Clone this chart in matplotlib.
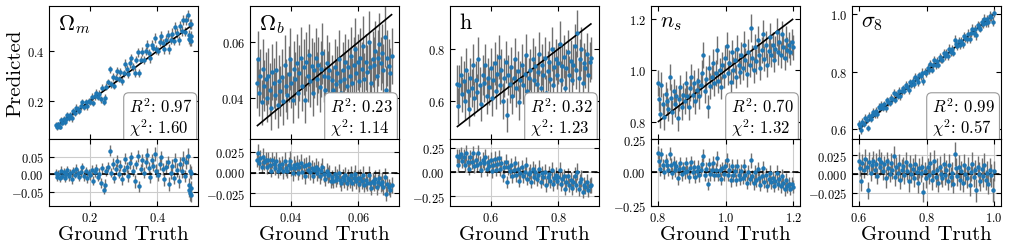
import numpy as np
import matplotlib
matplotlib.use("Agg")
import matplotlib.pyplot as plt

plt.rcParams["font.family"] = "serif"
plt.rcParams["font.serif"] = ["cmr10"]
plt.rcParams["mathtext.fontset"] = "cm"
plt.rcParams["axes.formatter.use_mathtext"] = True

# Omega_m
om_truth = [0.102, 0.105, 0.108, 0.112, 0.115, 0.119, 0.123, 0.127, 0.131, 0.134,
            0.139, 0.143, 0.147, 0.152, 0.156, 0.160, 0.165, 0.169, 0.174, 0.178,
            0.183, 0.188, 0.192, 0.197, 0.202, 0.206, 0.211, 0.215, 0.220, 0.224,
            0.229, 0.233, 0.237, 0.241, 0.245, 0.249, 0.254, 0.259, 0.263, 0.268,
            0.272, 0.277, 0.282, 0.287, 0.291, 0.296, 0.300, 0.305, 0.310, 0.314,
            0.319, 0.323, 0.328, 0.333, 0.337, 0.342, 0.346, 0.351, 0.356, 0.360,
            0.365, 0.370, 0.374, 0.379, 0.383, 0.388, 0.393, 0.397, 0.402, 0.407,
            0.411, 0.416, 0.421, 0.425, 0.430, 0.435, 0.439, 0.444, 0.449, 0.453,
            0.458, 0.463, 0.467, 0.472, 0.477, 0.481, 0.486, 0.489, 0.492, 0.494,
            0.496, 0.497, 0.498, 0.499, 0.500]
om_pred = [0.107, 0.097, 0.110, 0.100, 0.125, 0.115, 0.129, 0.117, 0.131, 0.146,
           0.133, 0.147, 0.133, 0.160, 0.154, 0.175, 0.168, 0.160, 0.180, 0.198,
           0.178, 0.197, 0.180, 0.201, 0.199, 0.217, 0.193, 0.221, 0.235, 0.216,
           0.231, 0.208, 0.255, 0.196, 0.215, 0.259, 0.276, 0.327, 0.268, 0.298,
           0.262, 0.292, 0.320, 0.289, 0.316, 0.281, 0.312, 0.350, 0.330, 0.309,
           0.351, 0.373, 0.338, 0.313, 0.365, 0.394, 0.311, 0.366, 0.396, 0.365,
           0.400, 0.425, 0.392, 0.371, 0.425, 0.413, 0.451, 0.407, 0.400, 0.437,
           0.459, 0.431, 0.406, 0.445, 0.465, 0.407, 0.444, 0.469, 0.439, 0.493,
           0.470, 0.443, 0.497, 0.480, 0.522, 0.476, 0.521, 0.541, 0.462, 0.449,
           0.506, 0.442, 0.438, 0.459, 0.505]
om_err = [0.010, 0.012, 0.009, 0.011, 0.013, 0.010, 0.012, 0.011, 0.010, 0.013,
          0.012, 0.011, 0.014, 0.012, 0.010, 0.013, 0.012, 0.011, 0.014, 0.012,
          0.013, 0.012, 0.014, 0.011, 0.013, 0.015, 0.012, 0.014, 0.013, 0.012,
          0.015, 0.013, 0.014, 0.012, 0.016, 0.014, 0.013, 0.015, 0.014, 0.016,
          0.014, 0.015, 0.017, 0.013, 0.016, 0.015, 0.014, 0.017, 0.015, 0.016,
          0.017, 0.015, 0.016, 0.018, 0.014, 0.017, 0.016, 0.015, 0.018, 0.016,
          0.017, 0.019, 0.016, 0.018, 0.017, 0.015, 0.019, 0.018, 0.016, 0.018,
          0.019, 0.017, 0.018, 0.020, 0.017, 0.019, 0.018, 0.020, 0.017, 0.021,
          0.019, 0.018, 0.020, 0.019, 0.021, 0.018, 0.020, 0.022, 0.019, 0.021,
          0.020, 0.022, 0.019, 0.021, 0.020]

# Omega_b
ob_truth = [0.0302, 0.0305, 0.0308, 0.0311, 0.0315, 0.0318, 0.0322, 0.0326, 0.0330, 0.0334,
            0.0338, 0.0342, 0.0346, 0.0350, 0.0354, 0.0358, 0.0362, 0.0366, 0.0370, 0.0374,
            0.0378, 0.0382, 0.0386, 0.0390, 0.0394, 0.0398, 0.0402, 0.0406, 0.0410, 0.0414,
            0.0418, 0.0422, 0.0426, 0.0430, 0.0434, 0.0438, 0.0442, 0.0446, 0.0450, 0.0454,
            0.0458, 0.0462, 0.0466, 0.0470, 0.0474, 0.0478, 0.0482, 0.0486, 0.0490, 0.0494,
            0.0498, 0.0502, 0.0506, 0.0510, 0.0514, 0.0518, 0.0522, 0.0526, 0.0530, 0.0534,
            0.0538, 0.0542, 0.0546, 0.0550, 0.0554, 0.0558, 0.0562, 0.0566, 0.0570, 0.0574,
            0.0578, 0.0582, 0.0586, 0.0590, 0.0594, 0.0598, 0.0602, 0.0606, 0.0610, 0.0614,
            0.0618, 0.0622, 0.0626, 0.0630, 0.0634, 0.0638, 0.0642, 0.0646, 0.0650, 0.0654,
            0.0658, 0.0662, 0.0666, 0.0670, 0.0674, 0.0678, 0.0682, 0.0686, 0.0690, 0.0694,
            0.0698]
ob_pred = [0.0455, 0.0540, 0.0420, 0.0480, 0.0385, 0.0505, 0.0445, 0.0470, 0.0400, 0.0480,
           0.0430, 0.0365, 0.0495, 0.0455, 0.0410, 0.0500, 0.0375, 0.0460, 0.0425, 0.0475,
           0.0390, 0.0520, 0.0445, 0.0410, 0.0485, 0.0540, 0.0455, 0.0395, 0.0505, 0.0470,
           0.0525, 0.0420, 0.0490, 0.0545, 0.0445, 0.0510, 0.0395, 0.0530, 0.0480, 0.0555,
           0.0460, 0.0515, 0.0420, 0.0500, 0.0545, 0.0470, 0.0520, 0.0440, 0.0505, 0.0560,
           0.0480, 0.0430, 0.0525, 0.0475, 0.0500, 0.0415, 0.0465, 0.0430, 0.0510, 0.0450,
           0.0490, 0.0540, 0.0460, 0.0420, 0.0500, 0.0470, 0.0530, 0.0445, 0.0510, 0.0480,
           0.0550, 0.0455, 0.0520, 0.0575, 0.0490, 0.0530, 0.0460, 0.0545, 0.0505, 0.0585,
           0.0470, 0.0530, 0.0495, 0.0600, 0.0510, 0.0455, 0.0540, 0.0520, 0.0570, 0.0480,
           0.0545, 0.0595, 0.0525, 0.0560, 0.0500, 0.0620, 0.0430, 0.0545, 0.0515, 0.0490,
           0.0550]
ob_err = [0.0090, 0.0100, 0.0085, 0.0095, 0.0080, 0.0105, 0.0090, 0.0095, 0.0085, 0.0100,
          0.0095, 0.0080, 0.0100, 0.0090, 0.0085, 0.0105, 0.0080, 0.0095, 0.0090, 0.0100,
          0.0085, 0.0105, 0.0095, 0.0085, 0.0100, 0.0110, 0.0090, 0.0085, 0.0100, 0.0095,
          0.0105, 0.0090, 0.0100, 0.0110, 0.0090, 0.0100, 0.0085, 0.0105, 0.0095, 0.0110,
          0.0090, 0.0100, 0.0085, 0.0100, 0.0105, 0.0095, 0.0100, 0.0090, 0.0100, 0.0110,
          0.0095, 0.0085, 0.0100, 0.0095, 0.0100, 0.0085, 0.0090, 0.0085, 0.0100, 0.0090,
          0.0095, 0.0105, 0.0090, 0.0085, 0.0100, 0.0095, 0.0100, 0.0090, 0.0100, 0.0095,
          0.0105, 0.0090, 0.0100, 0.0110, 0.0095, 0.0100, 0.0090, 0.0105, 0.0095, 0.0110,
          0.0090, 0.0100, 0.0095, 0.0110, 0.0095, 0.0090, 0.0100, 0.0100, 0.0105, 0.0090,
          0.0100, 0.0110, 0.0095, 0.0105, 0.0095, 0.0110, 0.0085, 0.0100, 0.0095, 0.0090,
          0.0100]

# h
h_truth = [0.502, 0.505, 0.508, 0.512, 0.516, 0.520, 0.524, 0.528, 0.532, 0.536,
           0.540, 0.544, 0.548, 0.552, 0.556, 0.560, 0.564, 0.568, 0.572, 0.576,
           0.580, 0.584, 0.588, 0.592, 0.596, 0.600, 0.604, 0.608, 0.612, 0.616,
           0.620, 0.624, 0.628, 0.632, 0.636, 0.640, 0.644, 0.648, 0.652, 0.656,
           0.660, 0.664, 0.668, 0.672, 0.676, 0.680, 0.684, 0.688, 0.692, 0.696,
           0.700, 0.704, 0.708, 0.712, 0.716, 0.720, 0.724, 0.728, 0.732, 0.736,
           0.740, 0.744, 0.748, 0.752, 0.756, 0.760, 0.764, 0.768, 0.772, 0.776,
           0.780, 0.784, 0.788, 0.792, 0.796, 0.800, 0.804, 0.808, 0.812, 0.816,
           0.820, 0.824, 0.828, 0.832, 0.836, 0.840, 0.844, 0.848, 0.852, 0.856,
           0.860, 0.864, 0.868, 0.872, 0.876, 0.880, 0.884, 0.888, 0.892, 0.896]
h_pred = [0.665, 0.580, 0.660, 0.700, 0.625, 0.675, 0.600, 0.720, 0.640, 0.570,
          0.690, 0.650, 0.740, 0.610, 0.680, 0.635, 0.760, 0.660, 0.590, 0.700,
          0.670, 0.740, 0.620, 0.690, 0.655, 0.725, 0.610, 0.680, 0.745, 0.640,
          0.705, 0.770, 0.660, 0.720, 0.600, 0.690, 0.750, 0.545, 0.700, 0.665,
          0.730, 0.620, 0.690, 0.760, 0.650, 0.715, 0.595, 0.680, 0.740, 0.660,
          0.705, 0.775, 0.640, 0.690, 0.720, 0.620, 0.760, 0.680, 0.735, 0.665,
          0.710, 0.780, 0.650, 0.740, 0.700, 0.765, 0.630, 0.715, 0.750, 0.685,
          0.800, 0.660, 0.730, 0.760, 0.700, 0.745, 0.820, 0.680, 0.735, 0.770,
          0.650, 0.725, 0.790, 0.700, 0.755, 0.680, 0.740, 0.810, 0.720, 0.860,
          0.690, 0.760, 0.800, 0.670, 0.745, 0.725, 0.780, 0.700, 0.750, 0.765]
h_err = [0.075, 0.070, 0.080, 0.072, 0.068, 0.078, 0.074, 0.082, 0.070, 0.066,
         0.076, 0.072, 0.080, 0.068, 0.074, 0.070, 0.084, 0.072, 0.066, 0.078,
         0.074, 0.080, 0.070, 0.076, 0.072, 0.078, 0.068, 0.074, 0.082, 0.070,
         0.076, 0.084, 0.072, 0.078, 0.068, 0.074, 0.080, 0.066, 0.076, 0.072,
         0.078, 0.070, 0.074, 0.082, 0.072, 0.076, 0.068, 0.074, 0.080, 0.072,
         0.076, 0.084, 0.070, 0.074, 0.078, 0.068, 0.082, 0.074, 0.078, 0.072,
         0.076, 0.084, 0.070, 0.078, 0.074, 0.080, 0.068, 0.076, 0.080, 0.072,
         0.086, 0.070, 0.076, 0.080, 0.074, 0.078, 0.088, 0.072, 0.076, 0.082,
         0.070, 0.076, 0.084, 0.074, 0.078, 0.072, 0.078, 0.086, 0.074, 0.090,
         0.072, 0.080, 0.084, 0.070, 0.078, 0.076, 0.082, 0.074, 0.078, 0.080]

# n_s
ns_truth = [0.802, 0.805, 0.808, 0.811, 0.815, 0.819, 0.823, 0.827, 0.831, 0.835,
            0.839, 0.843, 0.847, 0.851, 0.855, 0.859, 0.863, 0.867, 0.871, 0.875,
            0.879, 0.883, 0.887, 0.891, 0.895, 0.899, 0.903, 0.907, 0.911, 0.915,
            0.919, 0.923, 0.927, 0.931, 0.935, 0.939, 0.943, 0.947, 0.951, 0.955,
            0.959, 0.963, 0.967, 0.971, 0.975, 0.979, 0.983, 0.987, 0.991, 0.995,
            0.999, 1.003, 1.007, 1.011, 1.015, 1.019, 1.023, 1.027, 1.031, 1.035,
            1.039, 1.043, 1.047, 1.051, 1.055, 1.059, 1.063, 1.067, 1.071, 1.075,
            1.079, 1.083, 1.087, 1.091, 1.095, 1.099, 1.103, 1.107, 1.111, 1.115,
            1.119, 1.123, 1.127, 1.131, 1.135, 1.139, 1.143, 1.147, 1.151, 1.155,
            1.159, 1.163, 1.167, 1.171, 1.175, 1.179, 1.183, 1.187, 1.191, 1.195,
            1.198]
ns_pred = [0.950, 0.890, 0.830, 0.945, 0.870, 0.820, 0.910, 0.880, 0.850, 0.975,
           0.895, 0.840, 0.920, 0.870, 0.900, 0.815, 0.890, 0.935, 0.860, 0.905,
           0.880, 0.950, 0.900, 0.860, 0.930, 0.975, 0.905, 0.950, 0.880, 0.925,
           0.960, 0.900, 0.945, 0.990, 1.060, 0.920, 0.965, 0.860, 1.010, 0.940,
           0.975, 1.030, 0.950, 0.990, 1.080, 0.960, 1.000, 0.935, 1.020, 0.980,
           1.050, 1.095, 0.990, 1.030, 0.955, 1.070, 1.000, 1.040, 0.975, 1.085,
           1.020, 0.995, 1.060, 1.010, 1.100, 1.040, 0.985, 1.070, 1.020, 1.165,
           1.050, 1.000, 1.090, 1.035, 1.120, 1.060, 1.010, 1.080, 1.140, 1.045,
           1.100, 1.020, 1.075, 1.130, 1.060, 1.100, 1.040, 1.085, 1.150, 1.070,
           1.110, 1.060, 1.140, 1.090, 1.050, 1.120, 1.080, 1.100, 1.070, 1.110,
           1.090]
ns_err = [0.050, 0.046, 0.052, 0.048, 0.044, 0.050, 0.047, 0.053, 0.045, 0.049,
          0.051, 0.046, 0.048, 0.052, 0.045, 0.050, 0.047, 0.049, 0.053, 0.046,
          0.050, 0.048, 0.044, 0.052, 0.047, 0.050, 0.046, 0.053, 0.048, 0.045,
          0.051, 0.049, 0.046, 0.052, 0.050, 0.047, 0.053, 0.045, 0.049, 0.051,
          0.046, 0.052, 0.048, 0.050, 0.054, 0.047, 0.049, 0.045, 0.052, 0.048,
          0.050, 0.053, 0.046, 0.049, 0.051, 0.047, 0.052, 0.048, 0.045, 0.053,
          0.049, 0.046, 0.051, 0.048, 0.054, 0.047, 0.050, 0.052, 0.046, 0.055,
          0.049, 0.047, 0.053, 0.050, 0.052, 0.048, 0.046, 0.051, 0.054, 0.049,
          0.052, 0.047, 0.050, 0.053, 0.048, 0.051, 0.046, 0.050, 0.055, 0.048,
          0.052, 0.049, 0.053, 0.047, 0.050, 0.052, 0.048, 0.051, 0.049, 0.050,
          0.048]

# sigma_8
s8_truth = [0.602, 0.605, 0.608, 0.611, 0.615, 0.619, 0.623, 0.627, 0.631, 0.635,
            0.639, 0.643, 0.647, 0.651, 0.655, 0.659, 0.663, 0.667, 0.671, 0.675,
            0.679, 0.683, 0.687, 0.691, 0.695, 0.699, 0.703, 0.707, 0.711, 0.715,
            0.719, 0.723, 0.727, 0.731, 0.735, 0.739, 0.743, 0.747, 0.751, 0.755,
            0.759, 0.763, 0.767, 0.771, 0.775, 0.779, 0.783, 0.787, 0.791, 0.795,
            0.799, 0.803, 0.807, 0.811, 0.815, 0.819, 0.823, 0.827, 0.831, 0.835,
            0.839, 0.843, 0.847, 0.851, 0.855, 0.859, 0.863, 0.867, 0.871, 0.875,
            0.879, 0.883, 0.887, 0.891, 0.895, 0.899, 0.903, 0.907, 0.911, 0.915,
            0.919, 0.923, 0.927, 0.931, 0.935, 0.939, 0.943, 0.947, 0.951, 0.955,
            0.959, 0.963, 0.967, 0.971, 0.975, 0.979, 0.983, 0.987, 0.991, 0.995,
            0.998]
s8_pred = [0.620, 0.613, 0.598, 0.626, 0.620, 0.639, 0.633, 0.605, 0.647, 0.637,
           0.651, 0.661, 0.653, 0.665, 0.652, 0.679, 0.673, 0.683, 0.675, 0.688,
           0.673, 0.701, 0.695, 0.691, 0.710, 0.704, 0.727, 0.703, 0.721, 0.717,
           0.733, 0.715, 0.733, 0.742, 0.733, 0.755, 0.747, 0.737, 0.763, 0.755,
           0.766, 0.757, 0.781, 0.774, 0.763, 0.787, 0.784, 0.797, 0.767, 0.799,
           0.794, 0.812, 0.805, 0.826, 0.807, 0.822, 0.841, 0.823, 0.837, 0.823,
           0.849, 0.843, 0.841, 0.864, 0.853, 0.864, 0.853, 0.879, 0.867, 0.877,
           0.865, 0.910, 0.895, 0.888, 0.905, 0.891, 0.907, 0.895, 0.923, 0.915,
           0.913, 0.931, 0.912, 0.934, 0.949, 0.935, 0.949, 0.925, 0.961, 0.955,
           0.949, 0.970, 0.964, 0.983, 0.967, 0.981, 0.970, 0.992, 0.989, 0.973,
           1.002]
s8_err = [0.012, 0.011, 0.013, 0.012, 0.010, 0.013, 0.012, 0.011, 0.013, 0.012,
          0.011, 0.013, 0.012, 0.014, 0.011, 0.013, 0.012, 0.014, 0.012, 0.011,
          0.013, 0.012, 0.014, 0.011, 0.013, 0.012, 0.014, 0.012, 0.013, 0.011,
          0.013, 0.012, 0.014, 0.012, 0.011, 0.013, 0.012, 0.014, 0.013, 0.012,
          0.014, 0.012, 0.013, 0.011, 0.014, 0.013, 0.012, 0.014, 0.013, 0.012,
          0.014, 0.013, 0.012, 0.015, 0.013, 0.012, 0.014, 0.013, 0.015, 0.012,
          0.014, 0.013, 0.012, 0.015, 0.013, 0.014, 0.012, 0.015, 0.013, 0.014,
          0.012, 0.016, 0.014, 0.013, 0.015, 0.013, 0.014, 0.012, 0.015, 0.014,
          0.013, 0.015, 0.014, 0.013, 0.016, 0.014, 0.013, 0.015, 0.014, 0.016,
          0.013, 0.015, 0.014, 0.016, 0.013, 0.015, 0.014, 0.016, 0.015, 0.016,
          0.014]

param_names = [r"$\Omega_m$", r"$\Omega_b$", "h", r"$n_s$", r"$\sigma_8$"]
r2_values = ["0.97", "0.23", "0.32", "0.70", "0.99"]
chi2_values = ["1.60", "1.14", "1.23", "1.32", "0.57"]

truths = [om_truth, ob_truth, h_truth, ns_truth, s8_truth]
preds = [om_pred, ob_pred, h_pred, ns_pred, s8_pred]
errs = [om_err, ob_err, h_err, ns_err, s8_err]

# axis setup per panel
xlims = [(0.08, 0.52), (0.028, 0.072), (0.48, 0.92), (0.78, 1.22), (0.58, 1.02)]
ylims = [(0.051, 0.578), (0.0254, 0.0729), (0.454, 0.965), (0.734, 1.25), (0.567, 1.027)]
rlims = [(-0.091, 0.101), (-0.040, 0.040), (-0.35, 0.34), (-0.252, 0.232), (-0.043, 0.047)]
xticks = [[0.2, 0.4], [0.04, 0.06], [0.6, 0.8], [0.8, 1.0, 1.2], [0.6, 0.8, 1.0]]
yticks = [[0.2, 0.4], [0.04, 0.06], [0.6, 0.8], [0.8, 1.0, 1.2], [0.6, 0.8, 1.0]]
rticks = [[-0.05, 0, 0.05], [-0.025, 0, 0.025], [-0.25, 0, 0.25], [-0.25, 0, 0.25], [-0.025, 0, 0.025]]

W, H = 1011, 253
lefts = [49, 250, 450, 651, 852]

fig = plt.figure(figsize=(W / 100, H / 100), dpi=100)

for i in range(5):
    truth = np.array(truths[i])
    pred = np.array(preds[i])
    err = np.array(errs[i])
    resid = pred - truth

    x0 = lefts[i] / W
    ax = fig.add_axes([x0, 113 / H, 149 / W, 133 / H])
    axr = fig.add_axes([x0, 46 / H, 149 / W, 67 / H])

    ax.errorbar(truth, pred, yerr=err, fmt="o", ms=2.2, color="tab:blue",
                ecolor="#707070", elinewidth=1, capsize=0)
    lo, hi = truth.min(), truth.max()
    ax.plot([lo, hi], [lo, hi], color="k", lw=1.2)
    ax.set_xlim(xlims[i])
    ax.set_ylim(ylims[i])
    ax.set_xticks(xticks[i])
    ax.set_yticks(yticks[i])
    ax.tick_params(direction="in", top=True, right=True, labelbottom=False, labelsize=9)
    ax.text(0.06, 0.95, param_names[i], transform=ax.transAxes, fontsize=16, va="top")
    ax.text(0.535, 0.325, "$R^2$: " + r2_values[i] + "\n$\\chi^2$: " + chi2_values[i],
            transform=ax.transAxes, fontsize=12, va="top", ha="left", linespacing=1.1,
            bbox=dict(boxstyle="round,pad=0.3", fc="white", ec="0.6", lw=0.8), zorder=5)

    axr.errorbar(truth, resid, yerr=err, fmt="o", ms=2.2, color="tab:blue",
                 ecolor="#707070", elinewidth=1, capsize=0)
    axr.axhline(0, color="k", ls="--", lw=1.2)
    axr.set_xlim(xlims[i])
    axr.set_ylim(rlims[i])
    axr.set_xticks(xticks[i])
    axr.set_yticks(rticks[i])
    axr.grid(True, color="0.8", lw=0.8)
    axr.set_axisbelow(True)
    axr.tick_params(direction="in", top=True, right=True, labelsize=9)
    axr.set_xlabel("Ground Truth", fontsize=15, labelpad=1)

    if i == 0:
        ax.set_ylabel("Predicted", fontsize=15)
        ax.yaxis.set_label_coords(-0.165, 0.5)

fig.savefig("out.png", dpi=100)
